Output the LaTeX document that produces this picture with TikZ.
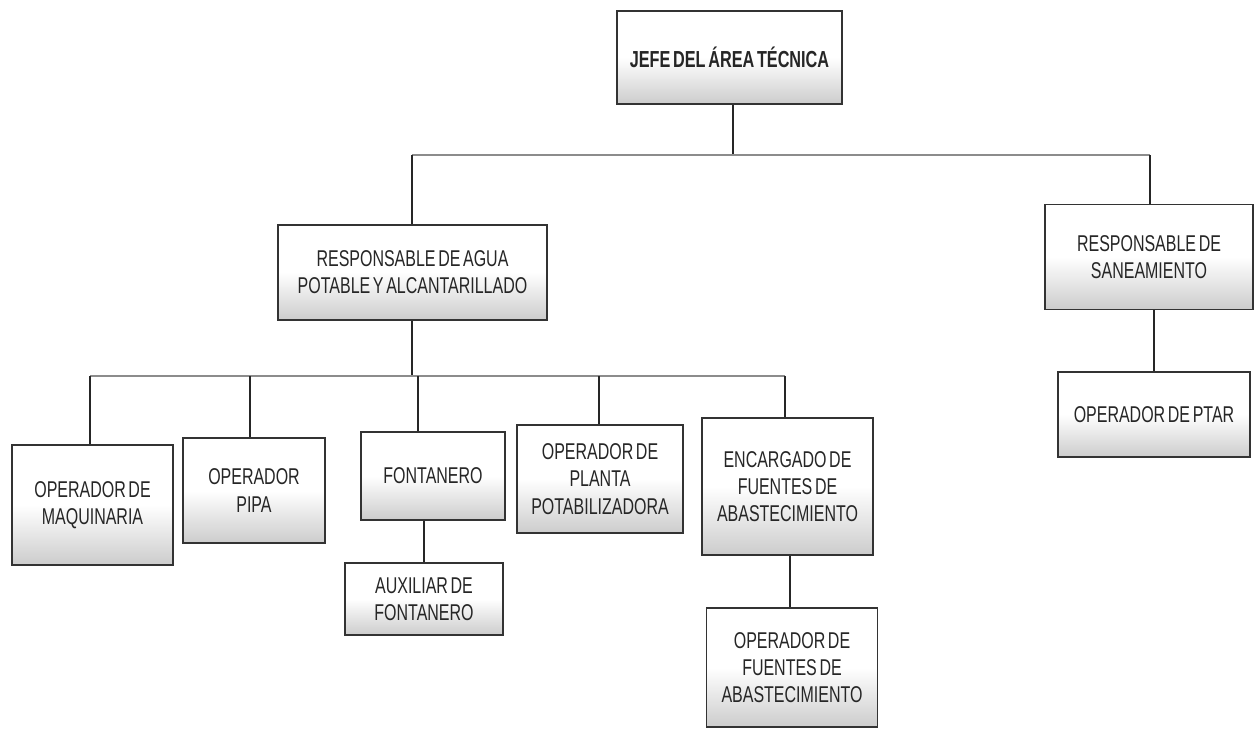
\documentclass[tikz,border=0pt]{standalone}
\usepackage{fontspec}
\setmainfont{Liberation Sans}[FakeStretch=0.7, WordSpace=0.6]
\begin{document}
\begin{tikzpicture}[x=0.02cm,y=-0.02cm,
  box/.style={draw=black!80, line width=1.1pt, top color=white, bottom color=black!20, middle color=white,
    align=center, inner sep=2pt, font=\fontsize{13}{15.5}\selectfont, text=black!85},
  conn/.style={line width=1.1pt, black!85},
  bar/.style={line width=1pt, black!45}]
\useasboundingbox (0,0) rectangle (1256,734);
% boxes (center, size in px * 0.02cm)
\node[box, minimum width=4.5cm, minimum height=1.86cm, font=\bfseries\fontsize{13.2}{15.5}\selectfont] (jefe) at (729.5,57.5) {JEFE DEL ÁREA TÉCNICA};
\node[box, minimum width=5.38cm, minimum height=1.9cm] (agua) at (412.5,272.5) {RESPONSABLE DE AGUA\\POTABLE Y ALCANTARILLADO};
\node[box, minimum width=4.16cm, minimum height=2.1cm] (san) at (1149,257) {RESPONSABLE DE\\SANEAMIENTO};
\node[box, minimum width=3.84cm, minimum height=1.7cm] (ptar) at (1154,414.5) {OPERADOR DE PTAR};
\node[box, minimum width=3.22cm, minimum height=2.4cm] (maq) at (92.5,505) {OPERADOR DE\\MAQUINARIA};
\node[box, minimum width=2.84cm, minimum height=2.1cm] (pipa) at (254,490.5) {OPERADOR\\PIPA};
\node[box, minimum width=2.88cm, minimum height=1.76cm] (font) at (433,476) {FONTANERO};
\node[box, minimum width=3.32cm, minimum height=2.16cm] (planta) at (600,479) {OPERADOR DE\\PLANTA\\POTABILIZADORA};
\node[box, minimum width=3.42cm, minimum height=2.74cm] (enc) at (787.5,486.5) {ENCARGADO DE\\FUENTES DE\\ABASTECIMIENTO};
\node[box, minimum width=3.16cm, minimum height=1.44cm] (aux) at (424,599) {AUXILIAR DE\\FONTANERO};
\node[box, minimum width=3.42cm, minimum height=2.38cm] (opf) at (792,667.5) {OPERADOR DE\\FUENTES DE\\ABASTECIMIENTO};
% bus coordinates
\coordinate (b1) at (733,155);
\coordinate (b1l) at (412,155);
\coordinate (b1r) at (1150,155);
\coordinate (b2) at (412,376);
\coordinate (b2a) at (90,376);
\coordinate (b2b) at (250,376);
\coordinate (b2c) at (418,376);
\coordinate (b2d) at (599,376);
\coordinate (b2e) at (785,376);
\coordinate (c1) at (790,560);
% connectors
\draw[conn] (jefe.south -| b1) -- (b1);
\draw[bar] (b1l) -- (b1r);
\draw[conn] (b1l) -- (agua.north -| b1l);
\draw[conn] (b1r) -- (san.north -| b1r);
\draw[conn] (san.south -| ptar.north) -- (ptar.north);
\draw[conn] (agua.south -| b2) -- (b2);
\draw[bar] (b2a) -- (b2e);
\draw[conn] (b2a) -- (maq.north -| b2a);
\draw[conn] (b2b) -- (pipa.north -| b2b);
\draw[conn] (b2c) -- (font.north -| b2c);
\draw[conn] (b2d) -- (planta.north -| b2d);
\draw[conn] (b2e) -- (enc.north -| b2e);
\draw[conn] (font.south -| aux.north) -- (aux.north);
\draw[conn] (enc.south -| c1) -- (opf.north -| c1);
\end{tikzpicture}
\end{document}
